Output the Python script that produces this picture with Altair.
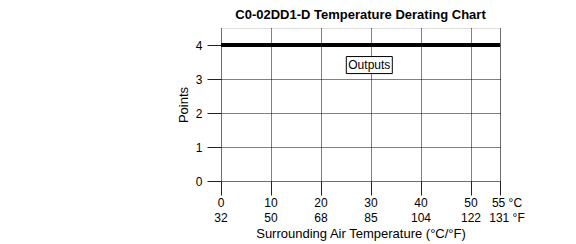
import altair as alt
import pandas as pd

# Data
temps_c = [0, 10, 20, 30, 40, 50, 55]
c_labels = ["0", "10", "20", "30", "40", "50", "55 °C"]
f_labels = ["32", "50", "68", "85", "104", "122", "131 °F"]
point_ticks = [0, 1, 2, 3, 4]
line_temp = [0, 55]
line_points = [4, 4]
series_name = ["Outputs"]
label_temp = [29.66]
label_points = [3.41]

FONT = "Liberation Sans"

line_df = pd.DataFrame({"t": line_temp, "p": line_points})
lab_df = pd.DataFrame({"t": temps_c, "c": c_labels, "f": f_labels})
box_df = pd.DataFrame({"t": label_temp, "p": label_points, "name": series_name})

# the original chart stretches the last 5 °C to reach the right edge
x_scale = alt.Scale(domain=[0, 50, 55], range=[0, 250, 279], nice=False, zero=False)
y_scale = alt.Scale(domain=[0, 4.5], nice=False)

x_axis = alt.Axis(values=temps_c, labels=False, tickSize=14, tickColor="#222",
                  grid=True, gridColor="black", gridDash=[1, 1], gridWidth=1,
                  domain=False, title="Surrounding Air Temperature (°C/°F)",
                  titleFont=FONT, titleFontSize=13, titleFontWeight="normal",
                  titleColor="black", titlePadding=32)
y_axis = alt.Axis(values=point_ticks, tickSize=14, tickColor="#222",
                  grid=True, gridColor="black", gridDash=[1, 1], gridWidth=1,
                  domain=False, labelFont=FONT, labelFontSize=12, labelColor="black",
                  labelPadding=5, labelOverlap=False, title="Points", titleFont=FONT,
                  titleFontSize=13, titleFontWeight="normal", titleColor="black",
                  titlePadding=5)

line = alt.Chart(line_df).mark_line(color="black", strokeWidth=4).encode(
    x=alt.X("t:Q", scale=x_scale, axis=x_axis),
    y=alt.Y("p:Q", scale=y_scale, axis=y_axis),
)

main_lab = lab_df[lab_df["t"] < 55]
end_lab = lab_df[lab_df["t"] == 55]

def labels(df, dx):
    base = alt.Chart(df)
    top = base.mark_text(font=FONT, fontSize=12, color="black", baseline="middle",
                         dx=dx).encode(
        x=alt.X("t:Q", scale=x_scale, axis=x_axis), y=alt.value(175), text="c:N")
    bot = base.mark_text(font=FONT, fontSize=12, color="black", baseline="middle",
                         dx=dx).encode(
        x=alt.X("t:Q", scale=x_scale, axis=x_axis), y=alt.value(190), text="f:N")
    return top + bot

box = alt.Chart(box_df).mark_point(
    shape="M-1,-0.37L1,-0.37L1,0.37L-1,0.37Z", size=46 * 46, filled=True,
    fill="white", stroke="black", strokeWidth=1, opacity=1).encode(
    x=alt.X("t:Q", scale=x_scale, axis=x_axis),
    y=alt.Y("p:Q", scale=y_scale, axis=y_axis))
box_text = alt.Chart(box_df).mark_text(font=FONT, fontSize=12, color="black",
                                       baseline="middle").encode(
    x=alt.X("t:Q", scale=x_scale, axis=x_axis),
    y=alt.Y("p:Q", scale=y_scale, axis=y_axis), text="name:N")

chart = alt.layer(line, labels(main_lab, 0), labels(end_lab, 7), box, box_text).properties(
    width=279, height=153,
    autosize=alt.AutoSizeParams(type="none"),
    padding={"left": 213, "top": 20, "right": 60, "bottom": 63},
    title=alt.TitleParams("C0-02DD1-D Temperature Derating Chart", font=FONT,
                          fontSize=13, fontWeight="bold", color="black",
                          anchor="middle", frame="group", offset=6),
).configure_view(stroke="black", strokeWidth=2).configure(background="white")

chart.save("out.html", embed_options={"renderer": "svg", "actions": False})
